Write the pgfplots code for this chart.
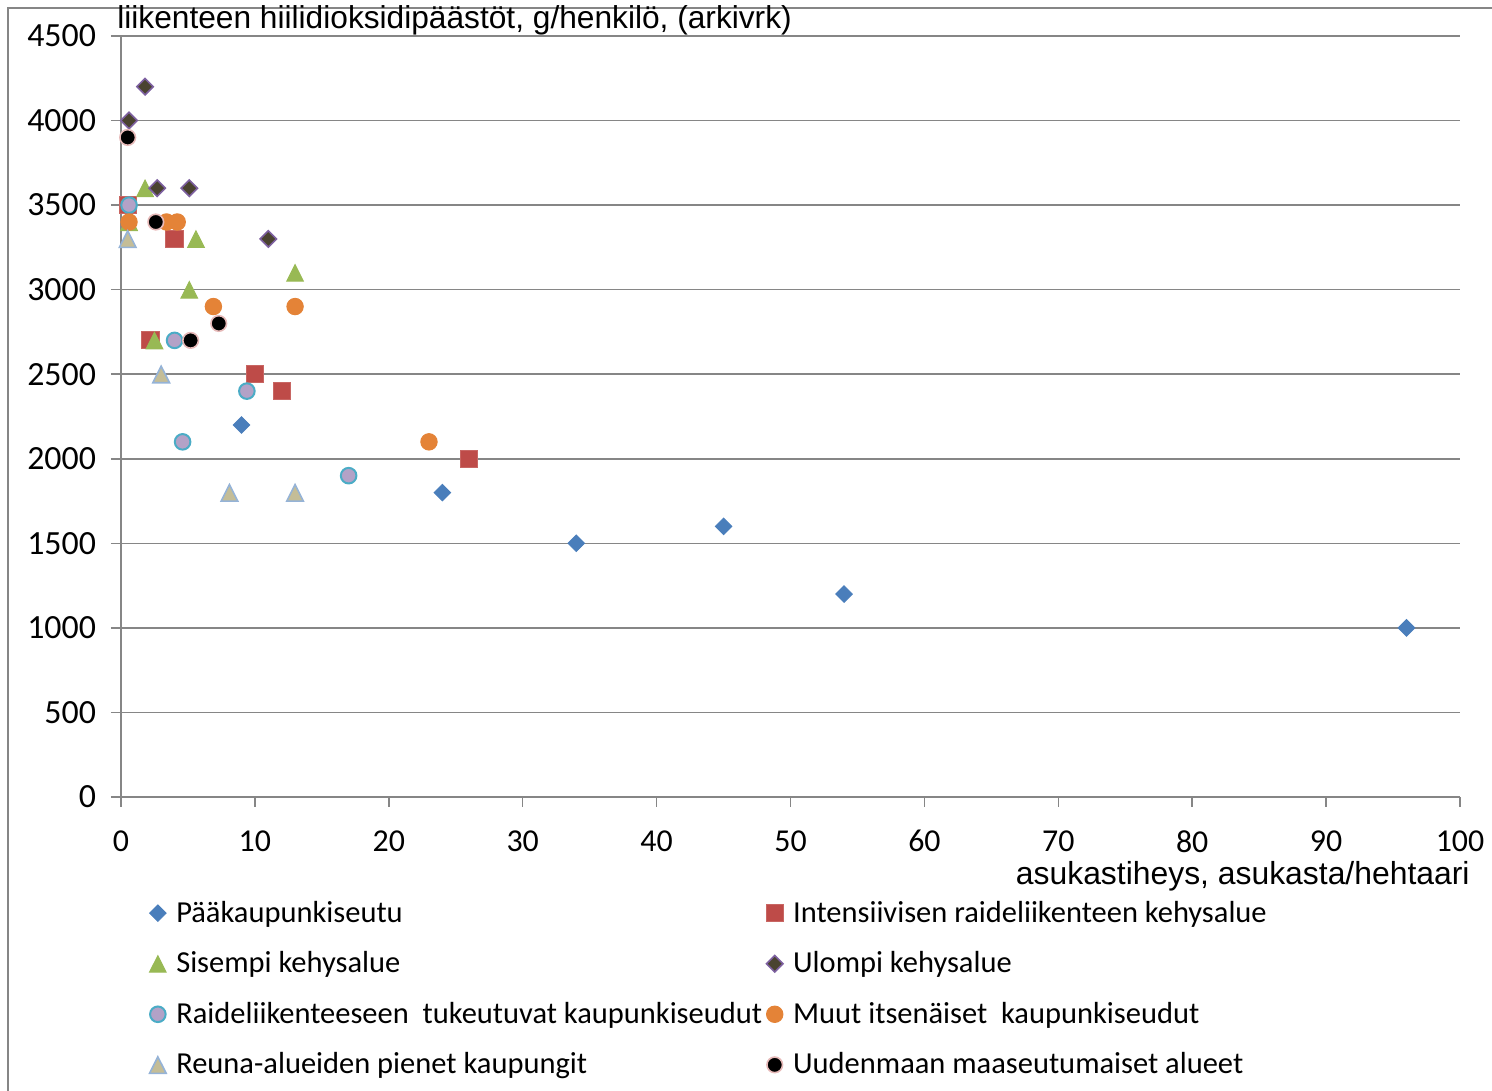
\documentclass[border=0pt]{standalone}
\usepackage{fontspec}
\setmainfont{Carlito}
\newfontfamily\arial{Liberation Sans}
\usepackage{pgfplots}
\pgfplotsset{compat=1.18}
\definecolor{cBlue}{HTML}{4A7EBB}
\definecolor{cRed}{HTML}{BE4B48}
\definecolor{cGreen}{HTML}{98B954}
\definecolor{cDark}{HTML}{4A4330}
\definecolor{cPurple}{HTML}{7D60A0}
\definecolor{cLav}{HTML}{B3A2C7}
\definecolor{cTeal}{HTML}{4BACC6}
\definecolor{cOrange}{HTML}{E48337}
\definecolor{cTan}{HTML}{C4BD97}
\definecolor{cLBlue}{HTML}{95B3D7}
\definecolor{cPink}{HTML}{E6B9B8}
\definecolor{cGrid}{HTML}{868686}
\begin{document}
\begin{tikzpicture}[x=1bp,y=1bp]
\useasboundingbox (0,0) rectangle (746,545.5);
\draw[cGrid, line width=0.9bp] (4,0) -- (4,541.5) -- (746,541.5);
\begin{axis}[
  at={(60.5bp,147bp)}, anchor=south west,
  scale only axis, width=669.5bp, height=380.5bp,
  xmin=0, xmax=100, ymin=0, ymax=4500,
  xtick={0,10,...,100}, ytick={0,500,...,4500},
  axis x line=bottom, axis y line=left,
  axis line style={-, cGrid, line width=0.75bp},
  tick style={cGrid, line width=0.75bp},
  tick align=outside, major tick length=5bp,
  ymajorgrids, grid style={cGrid, line width=0.75bp},
  xticklabel style={font=\fontsize{16}{18}\selectfont, yshift=-11bp, inner ysep=0.5bp},
  yticklabel style={font=\fontsize{17}{19}\selectfont, xshift=-4bp},
  /pgf/number format/assume math mode=true,
  /pgf/number format/1000 sep={},
  clip=false,
  legend columns=2,
  legend style={draw=none, fill=none, at={(0.0165,-0.1284)}, anchor=north west,
    font=\fontsize{15.3}{18}\selectfont, row sep=11.2bp,
    /tikz/column 2/.style={column sep=0bp},
    nodes={inner xsep=2bp, inner ysep=1bp}},
  legend cell align=left,
  legend image code/.code={\path (0bp,0bp) (11bp,0bp); \draw[#1] plot coordinates {(4bp,0bp)};},
]
\addplot[only marks, mark=diamond*, mark size=4.1bp, mark options={xscale=1.333, fill=cBlue, draw=cBlue, line width=0.5bp}]
  coordinates {(9,2200)(24,1800)(34,1500)(45,1600)(54,1200)(96,1000)};
\addlegendentry{Pääkaupunkiseutu}
\addplot[only marks, mark=square*, mark size=4.3bp, mark options={fill=cRed, draw=cRed!85, line width=0.5bp}]
  coordinates {(0.5,3500)(4,3300)(2.2,2700)(10,2500)(12,2400)(26,2000)};
\addlegendentry{Intensiivisen raideliikenteen kehysalue}
\addplot[only marks, mark=triangle*, mark size=4.8bp, mark options={yscale=1.15, yshift=-1.3bp, fill=cGreen, draw=cGreen, line width=0.5bp}]
  coordinates {(1.8,3600)(0.6,3400)(5.6,3300)(5.1,3000)(2.5,2700)(13,3100)};
\addlegendentry{Sisempi kehysalue}
\addplot[only marks, mark=diamond*, mark size=4.1bp, mark options={xscale=1.333, fill=cDark, draw=cPurple, line width=0.8bp}]
  coordinates {(1.8,4200)(0.6,4000)(2.7,3600)(5.1,3600)(11,3300)};
\addlegendentry{Ulompi kehysalue}
\addplot[only marks, mark=*, mark size=3.9bp, mark options={fill=cLav, draw=cTeal, line width=1bp}]
  coordinates {(0.6,3500)(4,2700)(9.4,2400)(4.6,2100)(17,1900)};
\addlegendentry{Raideliikenteeseen\ \ tukeutuvat kaupunkiseudut}
\addplot[only marks, mark=*, mark size=4.1bp, mark options={fill=cOrange, draw=cOrange, line width=0.5bp}]
  coordinates {(0.6,3400)(3.4,3400)(4.2,3400)(6.9,2900)(13,2900)(23,2100)};
\addlegendentry{Muut itsenäiset\ \ kaupunkiseudut}
\addplot[only marks, mark=triangle*, mark size=4.8bp, mark options={yscale=1.15, yshift=-1.3bp, fill=cTan, draw=cLBlue, line width=0.8bp}]
  coordinates {(0.5,3300)(3,2500)(8.1,1800)(13,1800)};
\addlegendentry{Reuna-alueiden pienet kaupungit}
\addplot[only marks, mark=*, mark size=3.9bp, mark options={fill=black, draw=cPink, line width=0.8bp}]
  coordinates {(0.5,3900)(2.6,3400)(7.3,2800)(5.2,2700)};
\addlegendentry{Uudenmaan maaseutumaiset alueet}
\end{axis}
\node[anchor=west, font=\arial\fontsize{15.9}{18}\selectfont, inner sep=0pt] at (58.5,535.5) {liikenteen hiilidioksidipäästöt, g/henkilö, (arkivrk)};
\node[anchor=east, font=\arial\fontsize{16}{18}\selectfont, inner sep=0pt] at (735,107.5) {asukastiheys, asukasta/hehtaari};
\end{tikzpicture}
\end{document}
